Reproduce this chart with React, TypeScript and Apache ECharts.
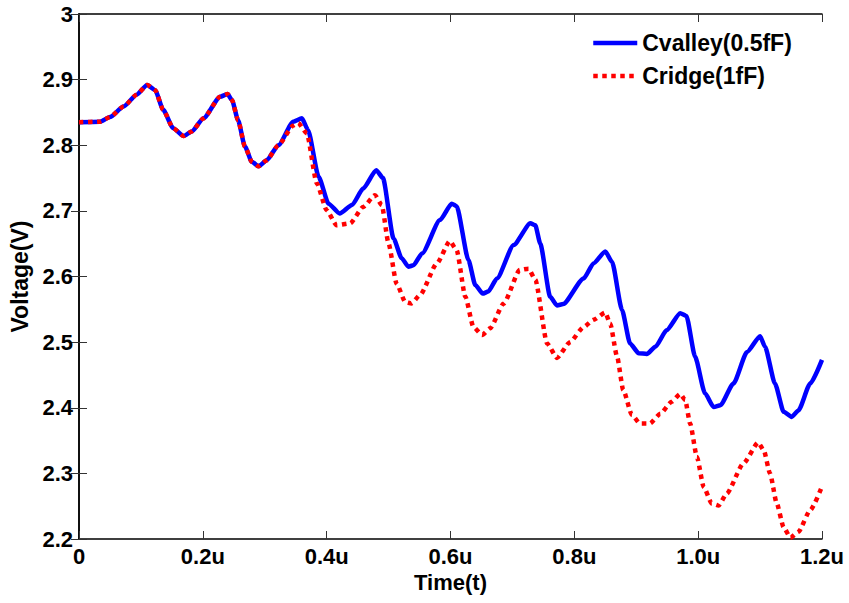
import React, { useEffect, useRef } from "react";
import * as echarts from "echarts";

const seriesNames = ["Cvalley(0.5fF)", "Cridge(1fF)"];
const xTickLabels = ["0", "0.2u", "0.4u", "0.6u", "0.8u", "1.0u", "1.2u"];

const cvalleyT = [
  0, 0.034, 0.05, 0.072, 0.093, 0.11, 0.123, 0.136, 0.152, 0.169, 0.182, 0.201, 0.228, 0.24, 0.247,
  0.257, 0.268, 0.279, 0.29, 0.303, 0.322, 0.346, 0.36, 0.37, 0.387, 0.403, 0.421, 0.441, 0.459,
  0.48, 0.491, 0.508, 0.521, 0.532, 0.54, 0.554, 0.583, 0.602, 0.61, 0.629, 0.64, 0.652, 0.661,
  0.675, 0.702, 0.729, 0.737, 0.745, 0.761, 0.772, 0.782, 0.815, 0.831, 0.85, 0.861, 0.877, 0.89,
  0.904, 0.917, 0.931, 0.949, 0.971, 0.981, 0.995, 1.011, 1.025, 1.036, 1.057, 1.079, 1.1, 1.108,
  1.124, 1.138, 1.151, 1.162, 1.181, 1.2,
];
const cvalleyV = [
  2.835, 2.836, 2.843, 2.859, 2.877, 2.892, 2.884, 2.854, 2.826, 2.814, 2.821, 2.841, 2.874, 2.878,
  2.869, 2.838, 2.798, 2.775, 2.768, 2.777, 2.8, 2.836, 2.841, 2.823, 2.752, 2.711, 2.696, 2.709,
  2.734, 2.762, 2.75, 2.658, 2.628, 2.615, 2.617, 2.635, 2.686, 2.711, 2.707, 2.625, 2.587, 2.574,
  2.577, 2.597, 2.648, 2.681, 2.678, 2.65, 2.569, 2.556, 2.558, 2.597, 2.62, 2.638, 2.622, 2.549,
  2.498, 2.483, 2.482, 2.493, 2.518, 2.544, 2.54, 2.478, 2.422, 2.401, 2.404, 2.437, 2.485, 2.509,
  2.493, 2.437, 2.394, 2.386, 2.396, 2.437, 2.473,
];

const cridgeT = [
  0, 0.034, 0.05, 0.072, 0.093, 0.11, 0.123, 0.136, 0.152, 0.169, 0.182, 0.201, 0.228, 0.24, 0.247,
  0.257, 0.268, 0.279, 0.29, 0.303, 0.322, 0.346, 0.354, 0.368, 0.384, 0.4, 0.416, 0.438, 0.459,
  0.478, 0.489, 0.5, 0.513, 0.527, 0.537, 0.551, 0.578, 0.599, 0.61, 0.624, 0.637, 0.651, 0.664,
  0.686, 0.712, 0.726, 0.737, 0.756, 0.772, 0.793, 0.815, 0.831, 0.85, 0.858, 0.869, 0.879, 0.893,
  0.906, 0.922, 0.939, 0.957, 0.971, 0.979, 0.987, 0.998, 1.009, 1.022, 1.033, 1.046, 1.073, 1.097,
  1.106, 1.116, 1.127, 1.138, 1.149, 1.162, 1.181, 1.2,
];
const cridgeV = [
  2.835, 2.836, 2.843, 2.859, 2.877, 2.892, 2.884, 2.854, 2.826, 2.814, 2.821, 2.841, 2.874, 2.878,
  2.869, 2.838, 2.798, 2.775, 2.768, 2.777, 2.8, 2.83, 2.834, 2.818, 2.742, 2.701, 2.678, 2.681,
  2.706, 2.724, 2.709, 2.65, 2.589, 2.561, 2.559, 2.572, 2.62, 2.654, 2.64, 2.569, 2.523, 2.511,
  2.521, 2.559, 2.61, 2.612, 2.595, 2.498, 2.476, 2.5, 2.523, 2.534, 2.545, 2.528, 2.478, 2.427,
  2.389, 2.376, 2.376, 2.391, 2.409, 2.421, 2.412, 2.376, 2.325, 2.279, 2.254, 2.251, 2.269, 2.315,
  2.347, 2.335, 2.3, 2.254, 2.218, 2.202, 2.211, 2.244, 2.28,
];

const FONT = "Liberation Sans, Arial, sans-serif";

export default function App() {
  const ref = useRef<HTMLDivElement>(null);
  useEffect(() => {
    if (!ref.current) return;
    const chart = echarts.init(ref.current, undefined, { renderer: "svg" });
    const pair = (t: number[], v: number[]) => t.map((x, i) => [x, v[i]]);
    const axisLine = { show: true, lineStyle: { color: "#000", width: 1.5 } };
    const tick = { show: true, inside: true, length: 8, lineStyle: { color: "#333", width: 1 } };
    chart.setOption({
      animation: false,
      backgroundColor: "#fff",
      textStyle: { fontFamily: FONT },
      grid: { left: 79, right: 27, top: 14, bottom: 64, containLabel: false },
      legend: {
        orient: "vertical",
        left: 591,
        top: 31,
        padding: 0,
        itemWidth: 44,
        itemHeight: 14,
        itemGap: 9,
        data: seriesNames,
        itemStyle: { color: "rgba(0,0,0,0)", borderColor: "rgba(0,0,0,0)", borderWidth: 0, opacity: 0 },
        lineStyle: { width: 4.5 },
        textStyle: { fontFamily: FONT, fontWeight: "bold", fontSize: 23, color: "#000", lineHeight: 24 },
      },
      xAxis: [
        {
          type: "value",
          min: 0,
          max: 1.2,
          interval: 0.2,
          name: "Time(t)",
          nameLocation: "middle",
          nameGap: 28,
          nameTextStyle: { fontFamily: FONT, fontWeight: "bold", fontSize: 22, color: "#000" },
          axisLine,
          axisTick: tick,
          splitLine: { show: false },
          axisLabel: {
            margin: 6,
            fontFamily: FONT,
            fontWeight: "bold",
            fontSize: 22,
            color: "#000",
            formatter: (v: number) => xTickLabels[Math.round(v / 0.2)] ?? "",
          },
        },
        {
          type: "value",
          position: "top",
          min: 0,
          max: 1.2,
          interval: 0.2,
          axisLine,
          axisTick: tick,
          axisLabel: { show: false },
          splitLine: { show: false },
        },
      ],
      yAxis: [
        {
          type: "value",
          min: 2.2,
          max: 3.0,
          interval: 0.1,
          name: "Voltage(V)",
          nameLocation: "middle",
          nameGap: 42,
          nameTextStyle: { fontFamily: FONT, fontWeight: "bold", fontSize: 23, color: "#000" },
          axisLine,
          axisTick: tick,
          splitLine: { show: false },
          axisLabel: {
            margin: 6,
            fontFamily: FONT,
            fontWeight: "bold",
            fontSize: 22,
            color: "#000",
            formatter: (v: number) => String(Math.round(v * 10) / 10),
          },
        },
        {
          type: "value",
          position: "right",
          min: 2.2,
          max: 3.0,
          interval: 0.1,
          axisLine,
          axisTick: tick,
          axisLabel: { show: false },
          splitLine: { show: false },
        },
      ],
      series: [
        {
          name: seriesNames[0],
          type: "line",
          data: pair(cvalleyT, cvalleyV),
          showSymbol: false,
          symbol: "none",
          smooth: 0.2,
          smoothMonotone: "x",
          lineStyle: { color: "#0000ff", width: 4.5 },
          itemStyle: { color: "#0000ff" },
          z: 2,
        },
        {
          name: seriesNames[1],
          type: "line",
          data: pair(cridgeT, cridgeV),
          showSymbol: false,
          symbol: "none",
          smooth: 0.2,
          smoothMonotone: "x",
          lineStyle: { color: "#ff0000", width: 4.5, type: [4.5, 4.5], cap: "butt" },
          itemStyle: { color: "#ff0000" },
          z: 3,
        },
      ],
    });
    return () => chart.dispose();
  }, []);
  return (
    <div
      ref={ref}
      style={{ position: "fixed", left: 0, top: 0, width: 849, height: 603, background: "#fff" }}
    />
  );
}
